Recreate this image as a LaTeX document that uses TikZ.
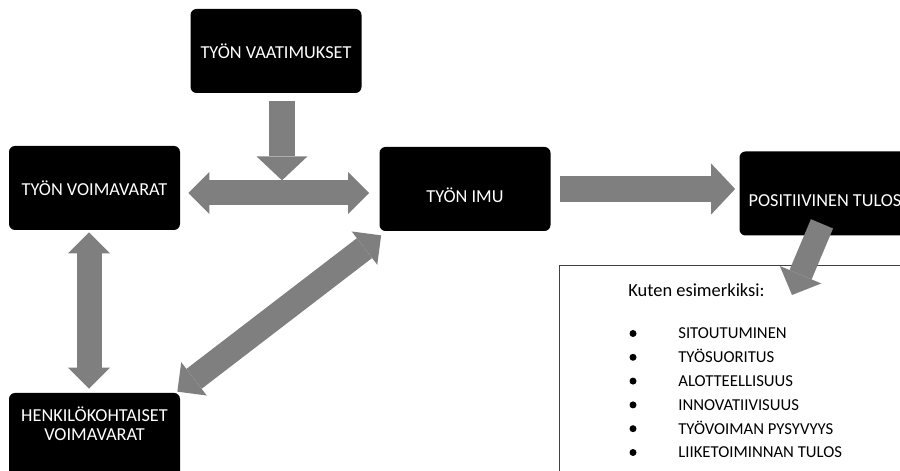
\documentclass[tikz,border=0pt]{standalone}
\usepackage{fontspec}
\setmainfont{Carlito}
\usetikzlibrary{arrows.meta, positioning, calc}
\definecolor{arrowgray}{HTML}{7F7F7F}
\definecolor{framegray}{HTML}{404040}
\definecolor{boxblack}{HTML}{000000}

\begin{document}
\begin{tikzpicture}[
  box/.style={fill=boxblack, rounded corners=0.12cm, text=white, align=center,
    minimum width=3.42cm, minimum height=1.68cm, inner sep=0pt,
    font=\fontsize{10.4}{10.6}\selectfont},
  arr/.style={draw=arrowgray, line width=0.5cm},
  bigarrow/.style={arr, line width=0.52cm,
    -{Triangle[length=0.48cm, width=1.02cm, line width=0pt]}},
  twoway/.style={arr,
    {Triangle[length=0.42cm, width=0.84cm, line width=0pt]}-{Triangle[length=0.42cm, width=0.84cm, line width=0pt]}},
  outarrow/.style={arr, line width=0.48cm,
    -{Triangle[length=0.44cm, width=0.9cm, line width=0pt]}},
]

% Canvas
\useasboundingbox (0,0) rectangle (18,-9.42);
\clip (0,0) rectangle (18,-9.42);

% ========================================
% Boxes
% ========================================
\node[box] (vaat) at (5.52,-1.02) {TYÖN VAATIMUKSET};
\node[box] (voima) at (1.89,-3.76) {TYÖN VOIMAVARAT};
\node[box, text height=0.54cm] (imu) at (9.30,-3.78) {TYÖN IMU};
\node[box, text height=0.54cm] (tulos) at (16.50,-3.87) {POSITIIVINEN TULOS};
\node[box, text depth=0.46cm] (henk) at (1.89,-8.70)
  {HENKILÖKOHTAISET\\VOIMAVARAT};

% ========================================
% Examples frame
% ========================================
\node[draw=framegray, line width=0.025cm, minimum width=7.3cm,
  minimum height=4.5cm, anchor=north west] (ex) at (11.18,-5.30) {};

\node[font=\fontsize{10.5}{12}\selectfont, inner sep=0pt, anchor=base west] (head)
  at (12.56,-5.94) {Kuten esimerkiksi:};

\foreach \txt [count=\i] in {SITOUTUMINEN, TYÖSUORITUS, ALOTTEELLISUUS,
    INNOVATIIVISUUS, TYÖVOIMAN PYSYVYYS, LIIKETOIMINNAN TULOS} {
  \node[circle, fill=black, inner sep=0pt, minimum size=0.14cm] (dot\i)
    at (12.66,{-(333.5+23.8*(\i-1))/50}) {};
  \node[font=\fontsize{9.5}{11}\selectfont, inner sep=0pt, anchor=base west] (item\i)
    at (13.56,{-(339+23.8*(\i-1))/50}) {\txt};
}

% ========================================
% Arrows
% ========================================
\draw[bigarrow] ([xshift=0.12cm,yshift=-0.16cm]vaat.south) -- ++(0,-1.58);
\draw[twoway] ([shift={(0.16,-0.1)}]voima.east) -- ([shift={(-0.2,-0.08)}]imu.west);
\draw[bigarrow] ([xshift=0.18cm]imu.east) -- ([xshift=-0.08cm]imu.east -| tulos.west);
\draw[twoway] ([shift={(-0.11,-0.04)}]voima.south) -- ([shift={(-0.11,0.08)}]henk.north);
\draw[twoway] ([shift={(-0.06,0.02)}]henk.north east) -- ([shift={(0.04,-0.08)}]imu.south west);
\draw[outarrow] ([shift={(-0.06,0.24)}]tulos.south) -- ([shift={(4.66,-0.6)}]ex.north west);

\end{tikzpicture}
\end{document}
